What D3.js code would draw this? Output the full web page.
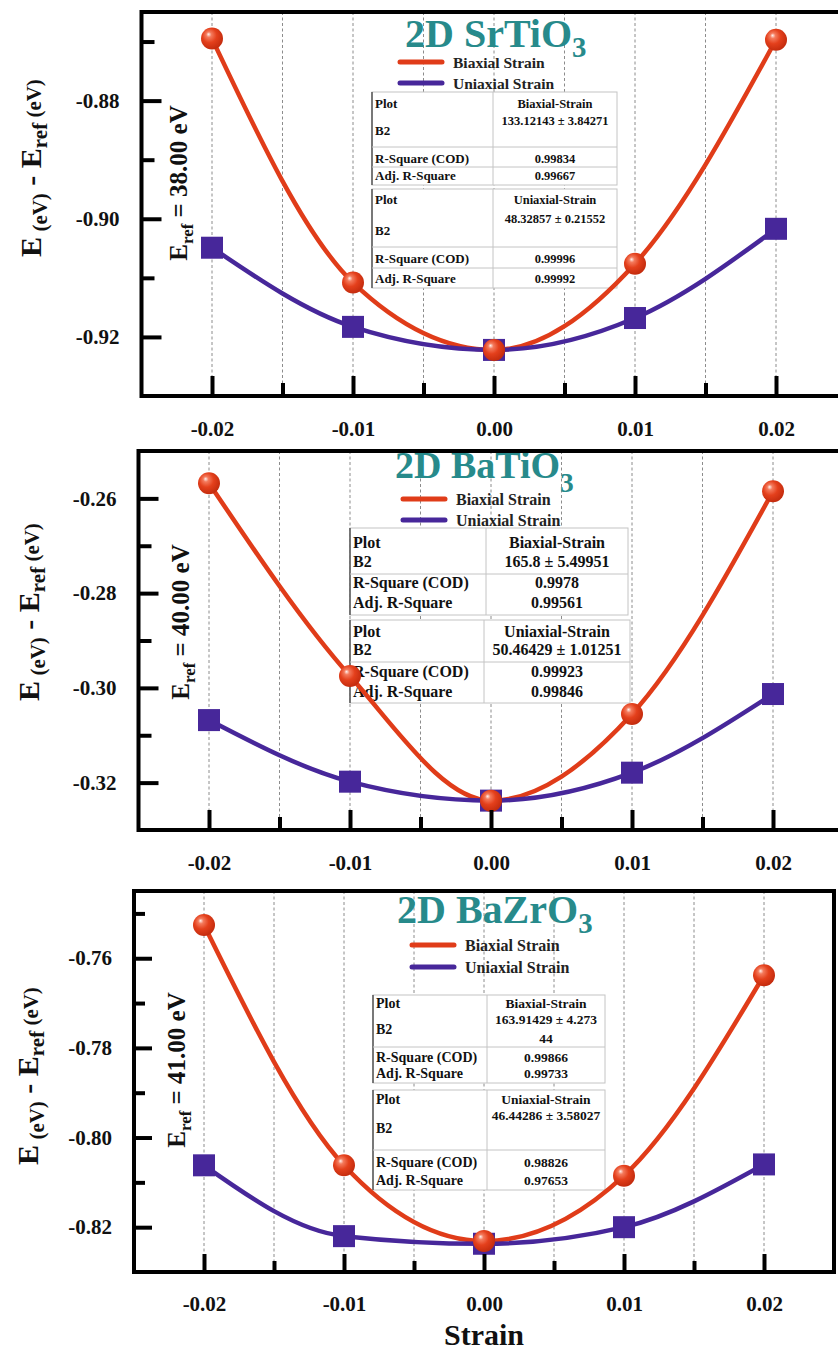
<!DOCTYPE html>
<html><head><meta charset="utf-8">
<script src="https://cdn.jsdelivr.net/npm/d3@7"></script>
<style>
body{margin:0;background:#fff}
svg{display:block}
text{font-family:"Liberation Serif","Times New Roman",serif;font-weight:bold}
</style>
</head><body>
<svg id="chart" width="838" height="1352"></svg>
<script>
// ---------------- DATA ----------------
const strain = [-0.02, -0.01, 0.00, 0.01, 0.02];
const xTicksMajor = [-0.02, -0.01, 0.00, 0.01, 0.02];
const xTicksMinor = [-0.015, -0.005, 0.005, 0.015];
const xDomain = [-0.025, 0.025];
const seriesNames = ["Biaxial Strain", "Uniaxial Strain"];
const materials = ["SrTiO", "BaTiO", "BaZrO"];
const erefValues = ["38.00", "40.00", "41.00"];

const srBiaxial  = [-0.8695, -0.9108, -0.9222, -0.9076, -0.8697];
const srUniaxial = [-0.9049, -0.9183, -0.9222, -0.9168, -0.9017];
const btBiaxial  = [-0.2568, -0.2975, -0.3238, -0.3055, -0.2585];
const btUniaxial = [-0.3068, -0.3198, -0.3238, -0.3179, -0.3013];
const bzBiaxial  = [-0.7526, -0.8062, -0.8231, -0.8085, -0.7638];
const bzUniaxial = [-0.8062, -0.8220, -0.8237, -0.8200, -0.8060];

const srYDomain = [-0.93, -0.865], srYMajor = [-0.92, -0.90, -0.88], srYMinor = [-0.91, -0.89, -0.87];
const btYDomain = [-0.33, -0.25],  btYMajor = [-0.32, -0.30, -0.28, -0.26], btYMinor = [-0.31, -0.29, -0.27];
const bzYDomain = [-0.83, -0.745], bzYMajor = [-0.82, -0.80, -0.78, -0.76], bzYMinor = [-0.81, -0.79, -0.77, -0.75];

const tableRowLabels = ["Plot", "B2", "R-Square (COD)", "Adj. R-Square"];
const srBiaxialFit  = ["Biaxial-Strain", "133.12143 ± 3.84271", "0.99834", "0.99667"];
const srUniaxialFit = ["Uniaxial-Strain", "48.32857 ± 0.21552", "0.99996", "0.99992"];
const btBiaxialFit  = ["Biaxial-Strain", "165.8 ± 5.49951", "0.9978", "0.99561"];
const btUniaxialFit = ["Uniaxial-Strain", "50.46429 ± 1.01251", "0.99923", "0.99846"];
const bzBiaxialFit  = ["Biaxial-Strain", "163.91429 ± 4.273\n44", "0.99866", "0.99733"];
const bzUniaxialFit = ["Uniaxial-Strain", "46.44286 ± 3.58027", "0.98826", "0.97653"];

const colors = { bi: "#e03c19", uni: "#47279a", title: "#278a8b" };

// ---------------- LAYOUT ----------------
const panels = [
  { mat: materials[0], eref: erefValues[0], bi: srBiaxial, uni: srUniaxial,
    yDomain: srYDomain, yMajor: srYMajor, yMinor: srYMinor,
    L: { left: 141.5, right: 846.5, top: 12, bottom: 396, xPad: 25, yPad: 22, maj: 20, min: 13,
         titleX: 405, titleY: 47, subDy: 10, titleFs: 40,
         legX: 400, legY1: 62, legY2: 83, legFs: 15.5,
         erefX: 178, erefY: 183, yTitleX: 30, yTitleY: 168 },
    tables: [
      { fit: srBiaxialFit, x0: 372, x1: 617, xc: 555, y0: 92, y1: 185, fs: 13, vfs: 12.5,
        ly: [108, 135, 163, 180], vy: [108, 125, 163, 180], seps: [147, 167] },
      { fit: srUniaxialFit, x0: 372, x1: 617, xc: 555, y0: 189, y1: 288, fs: 13, vfs: 12.5,
        ly: [204, 235, 263, 283], vy: [204, 223, 263, 283], seps: [247, 268] }
    ] },
  { mat: materials[1], eref: erefValues[1], bi: btBiaxial, uni: btUniaxial,
    yDomain: btYDomain, yMajor: btYMajor, yMinor: btYMinor,
    L: { left: 138.5, right: 843.5, top: 451, bottom: 830, xPad: 25, yPad: 22, maj: 20, min: 13,
         titleX: 395, titleY: 478, subDy: 14, titleFs: 38,
         legX: 403, legY1: 499, legY2: 520, legFs: 16,
         erefX: 180, erefY: 622, yTitleX: 28, yTitleY: 612 },
    tables: [
      { fit: btBiaxialFit, x0: 350, x1: 628, xc: 557, y0: 528, y1: 615, fs: 16, vfs: 16,
        ly: [548, 567, 588, 608], vy: [548, 567, 588, 608], seps: [574] },
      { fit: btUniaxialFit, x0: 350, x1: 630, xc: 557, y0: 620, y1: 703, fs: 16, vfs: 16,
        ly: [637, 655, 677, 697], vy: [637, 655, 677, 697], seps: [662] }
    ] },
  { mat: materials[2], eref: erefValues[2], bi: bzBiaxial, uni: bzUniaxial,
    yDomain: bzYDomain, yMajor: bzYMajor, yMinor: bzYMinor,
    L: { left: 134, right: 834, top: 891, bottom: 1272, xPad: 24, yPad: 22, maj: 18, min: 11,
         titleX: 397, titleY: 923, subDy: 10, titleFs: 40,
         legX: 412, legY1: 945, legY2: 967, legFs: 16,
         erefX: 176, erefY: 1070, yTitleX: 27, yTitleY: 1076 },
    tables: [
      { fit: bzBiaxialFit, x0: 373, x1: 605, xc: 546, y0: 995, y1: 1083, fs: 14, vfs: 13.5,
        ly: [1008, 1034, 1062, 1078], vy: [1008, 1024, 1062, 1078], seps: [1047] },
      { fit: bzUniaxialFit, x0: 373, x1: 605, xc: 546, y0: 1090, y1: 1190, fs: 14, vfs: 13.5,
        ly: [1104, 1133, 1167, 1185], vy: [1104, 1120, 1167, 1185], seps: [1150] }
    ] }
];

const svg = d3.select("#chart");
const defs = svg.append("defs");
const grad = defs.append("radialGradient").attr("id", "ball").attr("cx", "42%").attr("cy", "40%").attr("r", "60%").attr("fx", "34%").attr("fy", "30%");
grad.append("stop").attr("offset", "0%").attr("stop-color", "#fff0ec");
grad.append("stop").attr("offset", "20%").attr("stop-color", "#f47a5c");
grad.append("stop").attr("offset", "55%").attr("stop-color", "#e4401c");
grad.append("stop").attr("offset", "100%").attr("stop-color", "#c42c0e");

const fmt = d => (Math.abs(d) < 1e-9 ? 0 : d).toFixed(2);

function drawTable(g, t) {
  const tg = g.append("g");
  tg.append("rect").attr("x", t.x0).attr("y", t.y0).attr("width", t.x1 - t.x0).attr("height", t.y1 - t.y0)
    .attr("fill", "#fff").attr("stroke", "#c4c4c4").attr("stroke-width", 1);
  tg.append("line").attr("x1", t.x0).attr("x2", t.x0).attr("y1", t.y0).attr("y2", t.y1).attr("stroke", "#555").attr("stroke-width", 1.5);
  const colX = t.xc - (t.x1 - t.xc);
  tg.append("line").attr("x1", colX).attr("x2", colX).attr("y1", t.y0).attr("y2", t.y1).attr("stroke", "#c4c4c4").attr("stroke-width", 1);
  t.seps.forEach(s => tg.append("line").attr("x1", t.x0).attr("x2", t.x1).attr("y1", s).attr("y2", s).attr("stroke", "#c4c4c4").attr("stroke-width", 1));
  tableRowLabels.forEach((lab, i) => {
    tg.append("text").attr("x", t.x0 + 3).attr("y", t.ly[i]).attr("font-size", t.fs).attr("fill", "#111").text(lab);
    const parts = t.fit[i].split("\n");
    parts.forEach((p, k) => {
      tg.append("text").attr("x", t.xc).attr("y", t.vy[i] + k * 19).attr("text-anchor", "middle")
        .attr("font-size", t.vfs).attr("fill", "#111").text(p);
    });
  });
}

function drawPanel(p) {
  const L = p.L;
  const g = svg.append("g");
  const x = d3.scaleLinear().domain(xDomain).range([L.left, L.right]);
  const y = d3.scaleLinear().domain(p.yDomain).range([L.bottom, L.top]);

  // dashed gridlines
  g.selectAll(".grid").data(xTicksMajor.concat(xTicksMinor)).join("line")
    .attr("x1", d => x(d)).attr("x2", d => x(d)).attr("y1", L.top).attr("y2", L.bottom)
    .attr("stroke", "#8c8c8c").attr("stroke-width", 1).attr("stroke-dasharray", "3,2.5");

  // tables
  p.tables.forEach(t => drawTable(g, t));

  // title
  const tt = g.append("text").attr("x", L.titleX).attr("y", L.titleY).attr("font-size", L.titleFs).attr("fill", colors.title);
  tt.append("tspan").text("2D " + p.mat);
  tt.append("tspan").attr("font-size", L.titleFs * 0.72).attr("dy", L.subDy).text("3");

  // legend
  [[L.legY1, colors.bi, seriesNames[0]], [L.legY2, colors.uni, seriesNames[1]]].forEach(([ly, c, name]) => {
    g.append("line").attr("x1", L.legX).attr("x2", L.legX + 42).attr("y1", ly).attr("y2", ly)
      .attr("stroke", c).attr("stroke-width", 5).attr("stroke-linecap", "round");
    g.append("text").attr("x", L.legX + 53).attr("y", ly + 6).attr("font-size", L.legFs).attr("fill", "#222").text(name);
  });

  // curves
  const line = d3.line().x(d => x(d[0])).y(d => y(d[1])).curve(d3.curveMonotoneX);
  const biPts = strain.map((s, i) => [s, p.bi[i]]);
  const uniPts = strain.map((s, i) => [s, p.uni[i]]);
  g.append("path").attr("d", line(biPts)).attr("fill", "none").attr("stroke", colors.bi).attr("stroke-width", 4.5);
  g.append("path").attr("d", line(uniPts)).attr("fill", "none").attr("stroke", colors.uni).attr("stroke-width", 4.5);

  // markers
  g.selectAll(".sq").data(uniPts).join("rect")
    .attr("x", d => x(d[0]) - 11).attr("y", d => y(d[1]) - 11).attr("width", 22).attr("height", 22)
    .attr("fill", colors.uni);
  g.selectAll(".ball").data(biPts).join("circle")
    .attr("cx", d => x(d[0])).attr("cy", d => y(d[1])).attr("r", 11).attr("fill", "url(#ball)");

  // axes
  const xAxisMajor = d3.axisBottom(x).tickValues(xTicksMajor).tickFormat(fmt)
    .tickSizeInner(-L.maj).tickSizeOuter(0).tickPadding(L.xPad);
  const xAxisMinor = d3.axisBottom(x).tickValues(xTicksMinor).tickFormat("")
    .tickSizeInner(-L.min).tickSizeOuter(0);
  const yAxisMajor = d3.axisLeft(y).tickValues(p.yMajor).tickFormat(fmt)
    .tickSizeInner(-L.maj).tickSizeOuter(0).tickPadding(L.yPad);
  const yAxisMinor = d3.axisLeft(y).tickValues(p.yMinor).tickFormat("")
    .tickSizeInner(-L.min).tickSizeOuter(0);

  [[xAxisMajor, "b"], [xAxisMinor, "b"], [yAxisMajor, "l"], [yAxisMinor, "l"]].forEach(([ax, side]) => {
    const a = g.append("g").attr("transform", side === "b" ? `translate(0,${L.bottom})` : `translate(${L.left},0)`).call(ax);
    a.select(".domain").remove();
    a.selectAll(".tick line").attr("stroke", "#000").attr("stroke-width", 4);
    a.selectAll(".tick text").attr("font-size", 21).attr("fill", "#111")
      .style("font-family", '"Liberation Serif","Times New Roman",serif').style("font-weight", "bold");
  });

  // frame
  g.append("rect").attr("x", L.left).attr("y", L.top).attr("width", L.right - L.left).attr("height", L.bottom - L.top)
    .attr("fill", "none").attr("stroke", "#000").attr("stroke-width", 4);

  // Eref label
  const er = g.append("text").attr("transform", `translate(${L.erefX},${L.erefY}) rotate(-90)`)
    .attr("text-anchor", "middle").attr("font-size", 25).attr("fill", "#111").attr("dy", "0.35em");
  er.append("tspan").text("E");
  er.append("tspan").attr("font-size", 17).attr("dy", 6).text("ref");
  er.append("tspan").attr("dy", -6).text(" = " + p.eref + " eV");

  // Y title
  const yt = g.append("text").attr("transform", `translate(${L.yTitleX},${L.yTitleY}) rotate(-90)`)
    .attr("text-anchor", "middle").attr("font-size", 30).attr("fill", "#111").attr("dy", "0.35em");
  yt.append("tspan").text("E");
  yt.append("tspan").attr("font-size", 21).attr("dy", 6).text(" (eV)");
  yt.append("tspan").attr("dy", -6).text(" - E");
  yt.append("tspan").attr("font-size", 21).attr("dy", 6).text("ref");
  yt.append("tspan").attr("font-size", 21).attr("dy", -6).text(" (eV)");
}

panels.forEach(drawPanel);

svg.append("text").attr("x", 484).attr("y", 1345).attr("text-anchor", "middle")
  .attr("font-size", 30).attr("fill", "#111").text("Strain");
</script>
</body></html>
